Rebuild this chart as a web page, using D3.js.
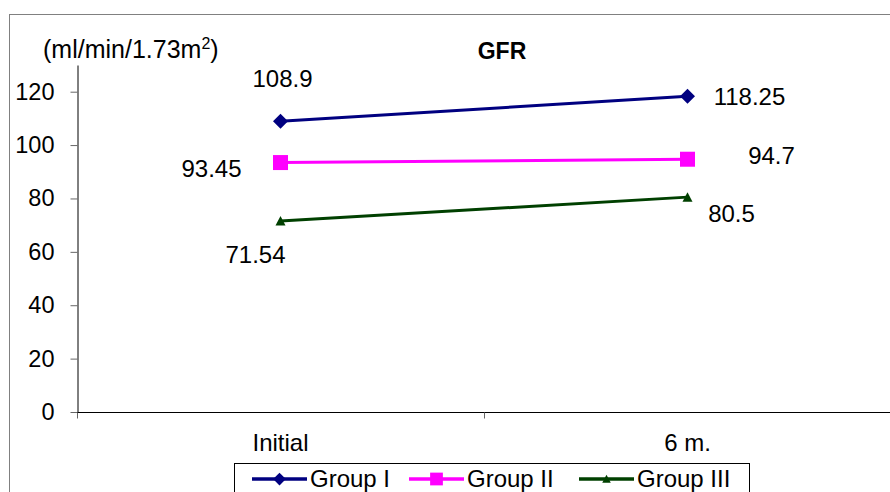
<!DOCTYPE html>
<html><head><meta charset="utf-8">
<script src="https://cdn.jsdelivr.net/npm/d3@7"></script>
<style>body{margin:0;background:#fff}svg{display:block;font-family:"Liberation Sans",Arial,sans-serif}</style>
</head><body><svg id="c" width="890" height="492"></svg>
<script>
const categories = ["Initial", "6 m."];
const seriesNames = ["Group I", "Group II", "Group III"];
const group1 = [108.9, 118.25];
const group2 = [93.45, 94.7];
const group3 = [71.54, 80.5];
const labels1 = ["108.9", "118.25"];
const labels2 = ["93.45", "94.7"];
const labels3 = ["71.54", "80.5"];
const yTicks = [0, 20, 40, 60, 80, 100, 120];
const colors = ["#000080", "#FF00FF", "#004000"];
const series = [
  {name: seriesNames[0], values: group1, labels: labels1, color: colors[0], marker: "diamond", lab: [[2,-43],[62,0]]},
  {name: seriesNames[1], values: group2, labels: labels2, color: colors[1], marker: "square", lab: [[-69,6],[84,-4]]},
  {name: seriesNames[2], values: group3, labels: labels3, color: colors[2], marker: "triangle", lab: [[-25,33],[44,16]]}
];

const svg = d3.select("#c");
svg.append("rect").attr("x",9.5).attr("y",14.5).attr("width",900).attr("height",500)
  .attr("fill","#fff").attr("stroke","#808080").attr("stroke-width",1);

const x0 = 77, x1 = 891, yTop = 65, yBot = 412;
const y = d3.scaleLinear().domain([0,130]).range([yBot, yTop]);
const xb = d3.scaleBand().domain(categories).range([x0, x1]);
const xc = d => xb(d) + xb.bandwidth()/2;

// y axis
const yAxis = svg.append("g").attr("transform",`translate(${x0}.5,0)`)
  .call(d3.axisLeft(y).tickValues(yTicks).tickSize(7).tickSizeOuter(0).tickPadding(16));
yAxis.select(".domain").attr("stroke","#000");
yAxis.selectAll(".tick line").attr("stroke","#666");
yAxis.selectAll("text").attr("font-size",23.5).attr("fill","#000").attr("font-family","Liberation Sans, Arial, sans-serif");

// x axis
const xAxisG = svg.append("g").attr("transform",`translate(0,${yBot}.5)`);
xAxisG.append("line").attr("x1",x0).attr("x2",x1).attr("stroke","#000");
xAxisG.selectAll("line.t").data([x0 + 0.5, x0 + xb.bandwidth() + 0.5]).join("line").attr("class","t")
  .attr("x1",d=>d).attr("x2",d=>d).attr("y1",0).attr("y2",6).attr("stroke","#666");
xAxisG.selectAll("text").data(categories).join("text")
  .attr("x",d=>xc(d)).attr("y",38).attr("text-anchor","middle")
  .attr("font-size",24).attr("fill","#000").text(d=>d);

// unit label
const ul = svg.append("text").attr("x",43).attr("y",58).attr("font-size",25).attr("fill","#000");
ul.append("tspan").text("(ml/min/1.73m");
ul.append("tspan").attr("font-size",16).attr("dy",-9).text("2");
ul.append("tspan").attr("dy",9).text(")");

// title
svg.append("text").attr("x",502).attr("y",59).attr("text-anchor","middle")
  .attr("font-size",23).attr("font-weight","bold").attr("fill","#000").text("GFR");

function drawMarker(g, type, cx, cy, color, k){
  k = k || 1;
  if(type==="diamond"){
    const r = 7.5*k;
    g.append("path").attr("d",`M${cx-r},${cy}L${cx},${cy-r}L${cx+r},${cy}L${cx},${cy+r}Z`).attr("fill",color);
  } else if(type==="square"){
    const r = 7.5*k;
    g.append("rect").attr("x",cx-r).attr("y",cy-r).attr("width",2*r).attr("height",2*r).attr("fill",color);
  } else {
    g.append("path").attr("d",`M${cx-5*k},${cy+4.5*k}L${cx},${cy-5*k}L${cx+5*k},${cy+4.5*k}Z`).attr("fill",color);
  }
}

const line = d3.line().x((d,i)=>xc(categories[i])).y(d=>y(d));
series.forEach(s=>{
  const g = svg.append("g");
  g.append("path").attr("d",line(s.values)).attr("fill","none").attr("stroke",s.color).attr("stroke-width",3);
  s.values.forEach((v,i)=>drawMarker(g, s.marker, xc(categories[i]), y(v), s.color));
  s.values.forEach((v,i)=>{
    g.append("text").attr("x",xc(categories[i])+s.lab[i][0]).attr("y",y(v)+s.lab[i][1]+8.5)
      .attr("text-anchor","middle").attr("font-size",24).attr("fill","#000").text(s.labels[i]);
  });
});

// legend
const lg = svg.append("g");
lg.append("rect").attr("x",234.5).attr("y",463.5).attr("width",515).attr("height",40)
  .attr("fill","#fff").attr("stroke","#000");
const lx = [252, 409, 579];
series.forEach((s,i)=>{
  lg.append("line").attr("x1",lx[i]).attr("x2",lx[i]+55).attr("y1",479).attr("y2",479)
    .attr("stroke",s.color).attr("stroke-width",3.5);
  drawMarker(lg, s.marker, lx[i]+27.5, 479, s.color, 0.85);
  lg.append("text").attr("x",lx[i]+58).attr("y",487).attr("font-size",24).attr("fill","#000").text(s.name);
});
</script></body></html>
